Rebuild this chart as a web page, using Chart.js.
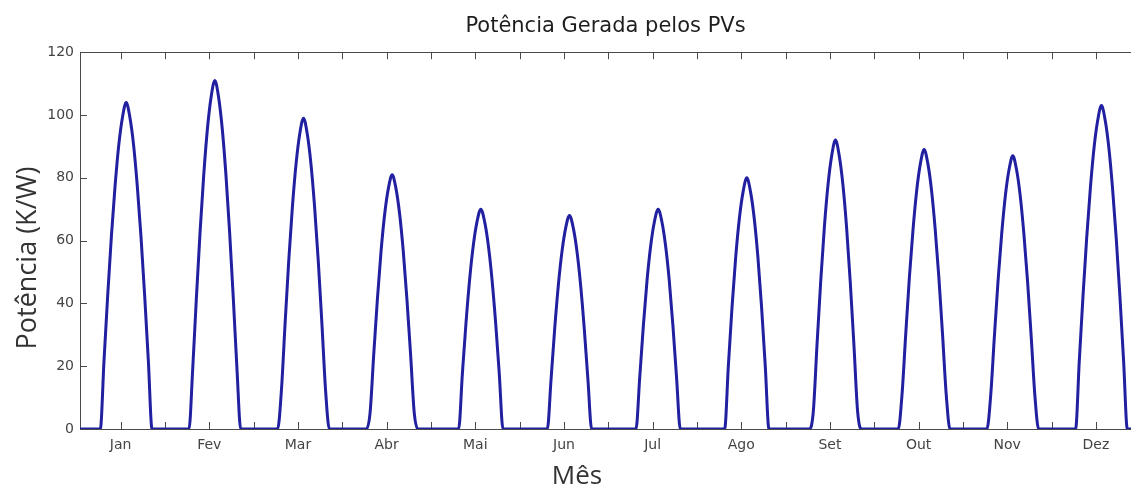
<!DOCTYPE html>
<html>
<head>
<meta charset="utf-8">
<script src="https://cdn.jsdelivr.net/npm/chart.js@4/dist/chart.umd.min.js"></script>
<style>
  html, body { margin: 0; padding: 0; background: #ffffff; overflow: hidden; }
  #wrap { width: 1131px; height: 490px; position: relative; }
</style>
</head>
<body>
<div id="wrap"><canvas id="c" width="1131" height="490"></canvas></div>
<script>
// ---- Data: hourly generated power (one typical day per month, 24 values each) ----
const months = ['Jan','Fev','Mar','Abr','Mai','Jun','Jul','Ago','Set','Out','Nov','Dez'];
const jan = [0,0,0,0,0,0,0,21.8,42.6,61.4,77.5,90.5,99.3,104,99.3,90.5,77.5,61.4,42.6,21.8,0,0,0,0];
const fev = [0,0,0,0,0,0,0,18.9,41.6,62.7,81.0,95.7,105.8,111,105.8,95.7,81.0,62.7,41.6,18.9,0,0,0,0];
const mar = [0,0,0,0,0,0,0,11.9,33.2,53.5,70.8,84.6,94.1,99,94.1,84.6,70.8,53.5,33.2,11.9,0,0,0,0];
const abr = [0,0,0,0,0,0,0,4.9,23.5,41.3,56.7,68.7,76.8,81,76.8,68.7,56.7,41.3,23.5,4.9,0,0,0,0];
const mai = [0,0,0,0,0,0,0,0,17.5,34.0,48.0,58.8,66.2,70,66.2,58.8,48.0,34.0,17.5,0,0,0,0,0];
const jun = [0,0,0,0,0,0,0,0,15.6,32.0,46.0,56.8,64.2,68,64.2,56.8,46.0,32.0,15.6,0,0,0,0,0];
const jul = [0,0,0,0,0,0,0,0,16.1,32.9,47.4,58.5,66.1,70,66.1,58.5,47.4,32.9,16.1,0,0,0,0,0];
const ago = [0,0,0,0,0,0,0,0,20.0,38.8,54.8,67.2,75.6,80,75.6,67.2,54.8,38.8,20.0,0,0,0,0,0];
const set = [0,0,0,0,0,0,0,5.5,26.7,46.9,64.4,78.0,87.2,92,87.2,78.0,64.4,46.9,26.7,5.5,0,0,0,0];
const out = [0,0,0,0,0,0,0,10.7,29.8,48.1,63.6,76.1,84.6,89,84.6,76.1,63.6,48.1,29.8,10.7,0,0,0,0];
const nov = [0,0,0,0,0,0,0,10.4,29.1,47.0,62.2,74.4,82.7,87,82.7,74.4,62.2,47.0,29.1,10.4,0,0,0,0];
const dez = [0,0,0,0,0,0,0,21.6,42.2,60.8,76.7,89.6,98.4,103,98.4,89.6,76.7,60.8,42.2,21.6,0,0,0,0];
const yTicks = [0,20,40,60,80,100,120];
const titleText = 'Potência Gerada pelos PVs';
const xTitle = 'Mês';
const yTitle = 'Potência (K/W)';

// ---- Build series (x = hour index over the year-profile) ----
const monthly = [jan,fev,mar,abr,mai,jun,jul,ago,set,out,nov,dez];
const series = [];
monthly.forEach((day, m) => day.forEach((v, h) => series.push({x: m*24 + h, y: v})));
const monthCenters = months.map((_, i) => i*24 + 11.5);
const minorTicks = [];
for (let v = 11.5; v < 300; v += 12) minorTicks.push(v);

const X_MIN = 0.5, X_MAX = 285;
const axisColor = '#4a4a4a';
const txtFont = 'DejaVu Sans';

const framePlugin = {
  id: 'frame',
  beforeDatasetsDraw(chart) {
    const {ctx, chartArea: a, scales: {x, y}} = chart;
    ctx.save();
    ctx.strokeStyle = axisColor;
    ctx.lineWidth = 1;
    ctx.beginPath();
    minorTicks.forEach(v => {
      const px = Math.round(x.getPixelForValue(v)) + 0.5;
      if (px < a.left || px > a.right) return;
      ctx.moveTo(px, a.bottom); ctx.lineTo(px, a.bottom - 7);
      ctx.moveTo(px, a.top); ctx.lineTo(px, a.top + 7);
    });
    yTicks.forEach(v => {
      const py = Math.round(y.getPixelForValue(v)) + 0.5;
      ctx.moveTo(a.left, py); ctx.lineTo(a.left + 7, py);
    });
    ctx.stroke();
    ctx.restore();
  },
  afterDraw(chart) {
    const {ctx} = chart;
    ctx.save();
    ctx.fillStyle = '#333333';
    ctx.textAlign = 'center';
    ctx.textBaseline = 'middle';
    ctx.font = '26px "Open Sans"';
    ctx.fillText(xTitle, 577, 477);
    ctx.font = '27px "Open Sans"';
    ctx.translate(28, 258);
    ctx.rotate(-Math.PI / 2);
    ctx.fillText(yTitle, 0, 0);
    ctx.restore();
  }
};

new Chart(document.getElementById('c'), {
  type: 'line',
  data: {
    datasets: [{
      data: series,
      borderColor: '#2020a0',
      borderWidth: 3,
      pointRadius: 0,
      cubicInterpolationMode: 'monotone',
      fill: false
    }]
  },
  options: {
    responsive: false,
    animation: false,
    events: [],
    layout: { padding: 0 },
    plugins: {
      legend: { display: false },
      tooltip: { enabled: false },
      title: {
        display: true,
        text: titleText,
        fullSize: false,
        color: '#1e1e1e',
        font: { family: txtFont, size: 21, weight: 'normal', lineHeight: 1.2 },
        padding: { top: 14, bottom: 13 }
      }
    },
    scales: {
      x: {
        type: 'linear',
        min: X_MIN,
        max: X_MAX,
        grid: { display: false, drawTicks: false },
        border: { display: true, color: axisColor, width: 1 },
        afterBuildTicks: (axis) => { axis.ticks = monthCenters.map(v => ({ value: v })); },
        afterFit: (axis) => { axis.height = 61; },
        ticks: {
          callback: (value, index) => months[index],
          color: '#444444',
          font: { family: txtFont, size: 14 },
          padding: 8,
          maxRotation: 0,
          autoSkip: false
        }
      },
      x2: {
        type: 'linear',
        position: 'top',
        min: X_MIN,
        max: X_MAX,
        grid: { display: false, drawTicks: false },
        border: { display: true, color: axisColor, width: 1 },
        ticks: { display: false },
        afterFit: (axis) => { axis.height = 0; }
      },
      y: {
        min: 0,
        max: 120,
        grid: { display: false, drawTicks: false },
        border: { display: true, color: axisColor, width: 1 },
        afterBuildTicks: (axis) => { axis.ticks = yTicks.map(v => ({ value: v })); },
        afterFit: (axis) => { axis.width = 80; },
        ticks: {
          color: '#444444',
          font: { family: txtFont, size: 14 },
          padding: 6
        }
      }
    }
  },
  plugins: [framePlugin]
});
</script>
</body>
</html>
